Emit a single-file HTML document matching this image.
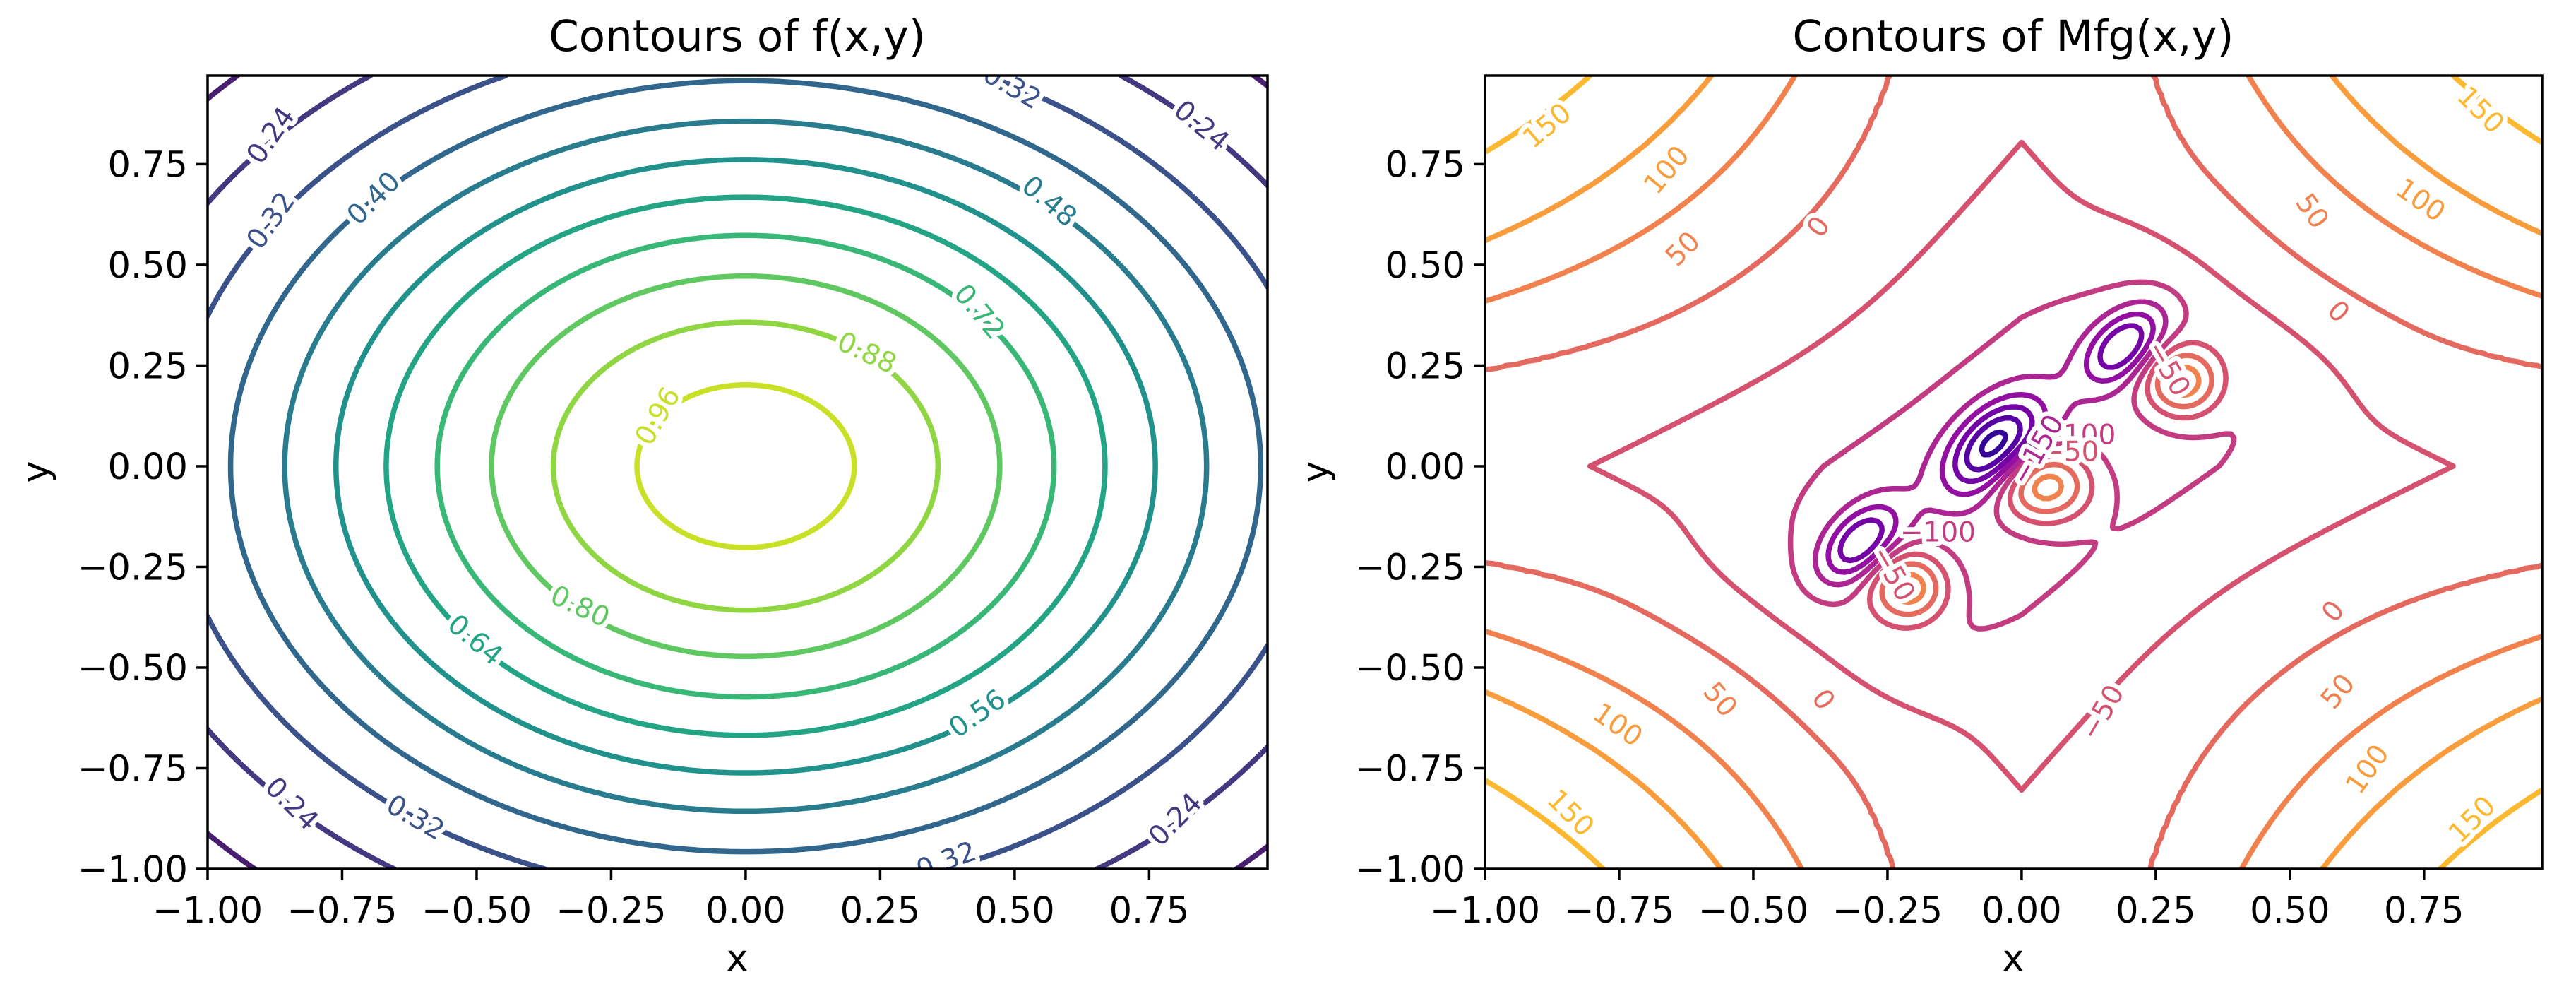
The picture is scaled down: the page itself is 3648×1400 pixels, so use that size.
<!DOCTYPE html>
<html>
<head>
<meta charset="utf-8">
<style>
  html,body{margin:0;padding:0;background:#fff;}
  svg{display:block;}
  text{font-family:"DejaVu Sans","Liberation Sans",sans-serif;}
  .tick{font-size:51px;fill:#000;}
  .title{font-size:61px;fill:#000;}
  .axlabel{font-size:52px;fill:#000;}
  .clabel{font-size:39px;paint-order:stroke;stroke:#fff;stroke-width:13px;stroke-linejoin:round;}
</style>
</head>
<body>
<svg id="fig" xmlns="http://www.w3.org/2000/svg" width="3648" height="1400" viewBox="0 0 3648 1400">
  <rect x="0" y="0" width="3648" height="1400" fill="#fff"/>
  <defs>
    <clipPath id="clipL"><rect x="294" y="107" width="1501" height="1123"/></clipPath>
    <clipPath id="clipR"><rect x="2103" y="107" width="1497" height="1123"/></clipPath>
  </defs>
  <g id="left">
    <text class="title" x="1044" y="72" text-anchor="middle">Contours of f(x,y)</text>
    <text class="axlabel" x="1044" y="1374" text-anchor="middle">x</text>
    <text class="axlabel" transform="translate(68,668) rotate(-90)" text-anchor="middle">y</text>
  </g>
  <g id="right">
    <text class="title" x="2851" y="72" text-anchor="middle">Contours of Mfg(x,y)</text>
    <text class="axlabel" x="2851" y="1374" text-anchor="middle">x</text>
    <text class="axlabel" transform="translate(1880,668) rotate(-90)" text-anchor="middle">y</text>
  </g>
</svg>
<script>
// ---------- data ----------
const xTicks = [-1, -0.75, -0.5, -0.25, 0, 0.25, 0.5, 0.75];
const yTicks = [-1, -0.75, -0.5, -0.25, 0, 0.25, 0.5, 0.75];
const xTickLabels = ["\u22121.00","\u22120.75","\u22120.50","\u22120.25","0.00","0.25","0.50","0.75"];
const yTickLabels = ["\u22121.00","\u22120.75","\u22120.50","\u22120.25","0.00","0.25","0.50","0.75"];

// left: f(x,y) = amp * exp(-((x-cx)^2+(y-cy)^2)/scale)
const fAmp = [1];
const fCenterX = [0];
const fCenterY = [0];
const fScale = [1];
const fLevels = [0.16, 0.24, 0.32, 0.40, 0.48, 0.56, 0.64, 0.72, 0.80, 0.88, 0.96];
const fNormRange = [0.08, 1.04];
const fLabelText = ["0.24","0.32","0.40","0.32","0.24","0.48","0.72","0.88","0.96","0.80","0.64","0.56","0.24","0.32","0.32","0.24"];
const fLabelLevel = [0.24,0.32,0.40,0.32,0.24,0.48,0.72,0.88,0.96,0.80,0.64,0.56,0.24,0.32,0.32,0.24];
const fLabelX = [-0.882,-0.882,-0.691,0.495,0.847,0.564,0.434,0.225,-0.163,-0.308,-0.503,0.431,-0.844,-0.614,0.373,0.799];
const fLabelY = [0.821,0.610,0.665,0.942,0.845,0.657,0.383,0.281,0.124,-0.349,-0.432,-0.615,-0.839,-0.873,-0.980,-0.878];
const fLabelRot = [-55,-55,-45,30,40,40,50,25,-60,25,40,-35,45,30,-20,-45];

// right: Mfg(x,y) model pieces
const hU = [0, 0.24, 0.41, 0.56, 0.78, 1.0];
const hV = [-25, 0, 50, 100, 150, 200];
const diamondDepth = [-40];
const diamondEdge = [0.835];
const diamondSoft = [0.06];
const rectDepth = [-60];
const rectHalfLong = [0.6];
const rectHalfWide = [0.31];
const blobX = [-0.05, -0.30, 0.19, 0.30, -0.21, 0.043];
const blobY = [0.05, -0.19, 0.30, 0.21, -0.30, -0.048];
const blobAmp = [-260, -190, -190, 190, 190, 200];
const blobSa = [0.09, 0.075, 0.075, 0.05, 0.05, 0.062];
const blobSb = [0.05, 0.042, 0.042, 0.062, 0.062, 0.066];
const blobAngle = [60, 60, 60, 0, 0, 0];
const gLevels = [-350, -300, -250, -200, -150, -100, -50, 0, 50, 100, 150];
const gNormRange = [-400, 250];
const gLabelText = ["150","100","50","0","150","100","50","0","0","50","100","150","150","100","50","0","\u221250","\u2212100","\u2212100","\u221250","\u2212150","\u221250","\u221250"];
const gLabelLevel = [150,100,50,0,150,100,50,0,0,50,100,150,150,100,50,0,-50,-100,-100,-50,-150,-50,-50];
const gLabelX = [-0.884,-0.661,-0.631,-0.378,0.855,0.743,0.541,0.590,0.581,0.590,0.645,0.840,-0.841,-0.753,-0.562,-0.370,0.151,-0.156,0.105,0.090,0.030,0.273,-0.240];
const gLabelY = [0.845,0.735,0.539,0.594,0.884,0.660,0.633,0.383,-0.361,-0.560,-0.753,-0.878,-0.862,-0.643,-0.580,-0.580,-0.612,-0.165,0.077,0.035,0.040,0.242,-0.267];
const gLabelRot = [-40,-50,-45,-55,45,35,55,45,-50,-50,-55,-45,45,35,50,55,-60,0,0,0,-60,60,60];

// ---------- geometry ----------
const XMIN=-1, XMAX=0.97, YMIN=-1, YMAX=0.97;
const Y0=107, Y1=1230;
const AX_L={x0:294,x1:1795}, AX_R={x0:2103,x1:3600};
const NS="http://www.w3.org/2000/svg";
function sxf(ax){return x=>ax.x0+(x-XMIN)/(XMAX-XMIN)*(ax.x1-ax.x0);}
function syf(y){return Y1-(y-YMIN)/(YMAX-YMIN)*(Y1-Y0);}

function lerpHex(a,b,t){
  const pa=[1,3,5].map(i=>parseInt(a.substr(i,2),16));
  const pb=[1,3,5].map(i=>parseInt(b.substr(i,2),16));
  return "rgb("+pa.map((v,i)=>Math.round(v+(pb[i]-v)*t)).join(",")+")";
}
const VIRIDIS=["#440154","#482475","#414487","#355f8d","#2a788e","#21918c","#22a884","#44bf70","#7ad151","#bddf26","#fde725"];
const PLASMA=["#0d0887","#41049d","#6a00a8","#8f0da4","#b12a90","#cc4778","#e16462","#f2844b","#fca636","#fcce25","#f0f921"];
function cmap(stops,t){
  t=Math.max(0,Math.min(1,t));
  const s=t*(stops.length-1), i=Math.min(stops.length-2,Math.floor(s));
  return lerpHex(stops[i],stops[i+1],s-i);
}

function fFunc(x,y){
  let v=0;
  for(let i=0;i<fAmp.length;i++){
    const dx=x-fCenterX[i], dy=y-fCenterY[i];
    v+=fAmp[i]*Math.exp(-(dx*dx+dy*dy)/fScale[i]);
  }
  return v;
}
function interp(u,xs,ys){
  if(u<=xs[0]) return ys[0];
  for(let i=1;i<xs.length;i++){
    if(u<=xs[i]) return ys[i-1]+(ys[i]-ys[i-1])*(u-xs[i-1])/(xs[i]-xs[i-1]);
  }
  const n=xs.length;
  return ys[n-1]+(ys[n-1]-ys[n-2])*(u-xs[n-1])/(xs[n-1]-xs[n-2]);
}
function gFunc(x,y){
  let v=interp(Math.abs(x*y),hU,hV);
  const L1=Math.abs(x)+Math.abs(y);
  v+=diamondDepth[0]/(1+Math.exp(-(diamondEdge[0]-L1)/diamondSoft[0]));
  const p=(x+y)/Math.SQRT2, q=(y-x)/Math.SQRT2;
  v+=rectDepth[0]*Math.exp(-(Math.pow(p/rectHalfLong[0],4)+Math.pow(q/rectHalfWide[0],4)));
  for(let i=0;i<blobAmp.length;i++){
    const th=blobAngle[i]*Math.PI/180, dx=x-blobX[i], dy=y-blobY[i];
    const a=dx*Math.cos(th)+dy*Math.sin(th), b=-dx*Math.sin(th)+dy*Math.cos(th);
    v+=blobAmp[i]*Math.exp(-(a*a/(2*blobSa[i]*blobSa[i])+b*b/(2*blobSb[i]*blobSb[i])));
  }
  return v;
}

function contourPath(func,level,sx,sy){
  const step=0.01, n=Math.round((XMAX-XMIN)/step)+1;
  if(!contourPath.cache) contourPath.cache=new Map();
  let grid=contourPath.cache.get(func);
  const xs=(XMAX-XMIN)/(n-1), ys=(YMAX-YMIN)/(n-1);
  if(!grid){
    grid=[];
    for(let j=0;j<n;j++){const row=[];for(let i=0;i<n;i++) row.push(func(XMIN+i*xs,YMIN+j*ys));grid.push(row);}
    contourPath.cache.set(func,grid);
  }
  let d=[];
  const pt=(x,y)=>sx(x).toFixed(1)+" "+sy(y).toFixed(1);
  for(let j=0;j<n-1;j++){
    for(let i=0;i<n-1;i++){
      const v00=grid[j][i], v10=grid[j][i+1], v11=grid[j+1][i+1], v01=grid[j+1][i];
      const x0=XMIN+i*xs, x1=x0+xs, y0=YMIN+j*ys, y1=y0+ys;
      const e=[];
      if((v00<level)!==(v10<level)){const t=(level-v00)/(v10-v00);e.push([0,x0+t*xs,y0]);}
      if((v10<level)!==(v11<level)){const t=(level-v10)/(v11-v10);e.push([1,x1,y0+t*ys]);}
      if((v01<level)!==(v11<level)){const t=(level-v01)/(v11-v01);e.push([2,x0+t*xs,y1]);}
      if((v00<level)!==(v01<level)){const t=(level-v00)/(v01-v00);e.push([3,x0,y0+t*ys]);}
      if(e.length===2){
        d.push("M"+pt(e[0][1],e[0][2])+"L"+pt(e[1][1],e[1][2]));
      } else if(e.length===4){
        const c=(v00+v10+v11+v01)/4;
        if((c<level)===(v00<level)){
          d.push("M"+pt(e[0][1],e[0][2])+"L"+pt(e[1][1],e[1][2]));
          d.push("M"+pt(e[2][1],e[2][2])+"L"+pt(e[3][1],e[3][2]));
        } else {
          d.push("M"+pt(e[0][1],e[0][2])+"L"+pt(e[3][1],e[3][2]));
          d.push("M"+pt(e[1][1],e[1][2])+"L"+pt(e[2][1],e[2][2]));
        }
      }
    }
  }
  return d.join("");
}

function drawAxes(groupId,ax,prefix){
  const g=document.getElementById(groupId);
  const sx=sxf(ax);
  const spine=document.createElementNS(NS,"rect");
  
  
  spine.setAttribute("x",ax.x0);spine.setAttribute("y",Y0);
  spine.setAttribute("width",ax.x1-ax.x0);spine.setAttribute("height",Y1-Y0);
  spine.setAttribute("fill","none");spine.setAttribute("stroke","#000");spine.setAttribute("stroke-width","3.5");
  g.appendChild(spine);
  xTicks.forEach((v,i)=>{
    const X=sx(v);
    const t=document.createElementNS(NS,"line");
    
    
    t.setAttribute("x1",X);t.setAttribute("x2",X);t.setAttribute("y1",Y1);t.setAttribute("y2",Y1+16);
    t.setAttribute("stroke","#000");t.setAttribute("stroke-width","3.5");
    g.appendChild(t);
    const l=document.createElementNS(NS,"text");
    
    
    l.setAttribute("class","tick");l.setAttribute("x",X);l.setAttribute("y",1306);l.setAttribute("text-anchor","middle");
    l.textContent=xTickLabels[i];
    g.appendChild(l);
  });
  yTicks.forEach((v,i)=>{
    const Y=syf(v);
    const t=document.createElementNS(NS,"line");
    
    
    t.setAttribute("x1",ax.x0-16);t.setAttribute("x2",ax.x0);t.setAttribute("y1",Y);t.setAttribute("y2",Y);
    t.setAttribute("stroke","#000");t.setAttribute("stroke-width","3.5");
    g.appendChild(t);
    const l=document.createElementNS(NS,"text");
    
    
    l.setAttribute("class","tick");l.setAttribute("x",ax.x0-28);l.setAttribute("y",Y+18);l.setAttribute("text-anchor","end");
    l.textContent=yTickLabels[i];
    g.appendChild(l);
  });
}

function drawContours(groupId,ax,clipId,func,levels,normRange,stops,prefix){
  const g=document.getElementById(groupId);
  const sx=sxf(ax);
  const cg=document.createElementNS(NS,"g");
  
  
  cg.setAttribute("clip-path","url(#"+clipId+")");
  levels.forEach(L=>{
    const p=document.createElementNS(NS,"path");
    
    
    p.setAttribute("d",contourPath(func,L,sx,syf));
    p.setAttribute("fill","none");
    p.setAttribute("stroke",cmap(stops,(L-normRange[0])/(normRange[1]-normRange[0])));
    p.setAttribute("stroke-width","7.5");
    p.setAttribute("stroke-linecap","round");
    cg.appendChild(p);
  });
  g.insertBefore(cg,g.firstChild);
  return cg;
}

function drawLabels(cg,ax,texts,levs,xs,ys,rots,normRange,stops,prefix){
  const sx=sxf(ax);
  texts.forEach((s,i)=>{
    const t=document.createElementNS(NS,"text");
    
    
    t.setAttribute("class","clabel");
    t.setAttribute("text-anchor","middle");
    t.setAttribute("dominant-baseline","central");
    const X=sx(xs[i]), Y=syf(ys[i]);
    t.setAttribute("transform","translate("+X.toFixed(1)+","+Y.toFixed(1)+") rotate("+rots[i]+")");
    t.setAttribute("fill",cmap(stops,(levs[i]-normRange[0])/(normRange[1]-normRange[0])));
    t.textContent=s;
    cg.appendChild(t);
  });
}

const cgL=drawContours("left",AX_L,"clipL",fFunc,fLevels,fNormRange,VIRIDIS,"left");
drawLabels(cgL,AX_L,fLabelText,fLabelLevel,fLabelX,fLabelY,fLabelRot,fNormRange,VIRIDIS,"left");
drawAxes("left",AX_L,"left");
const cgR=drawContours("right",AX_R,"clipR",gFunc,gLevels,gNormRange,PLASMA,"right");
drawLabels(cgR,AX_R,gLabelText,gLabelLevel,gLabelX,gLabelY,gLabelRot,gNormRange,PLASMA,"right");
drawAxes("right",AX_R,"right");
</script>
</body>
</html>
